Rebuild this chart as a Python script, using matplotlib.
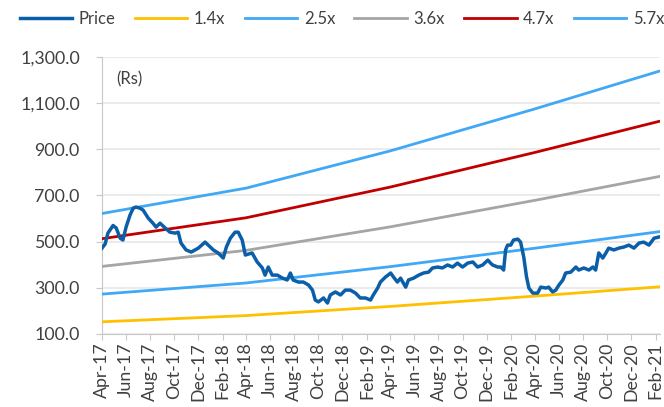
import matplotlib
matplotlib.use("Agg")
import matplotlib.pyplot as plt
import matplotlib.dates as mdates
import matplotlib.ticker as mticker
import pandas as pd
import numpy as np

plt.rcParams['font.family'] = ['Lato', 'DejaVu Sans']

# ---- data ----
start = pd.Timestamp('2017-04-01')
price_day = [0, 8, 15, 28, 36, 46, 53, 61, 71, 79, 86, 96, 104, 117, 129, 137, 147, 160, 172, 185,
             193, 200, 213, 226, 244, 261, 269, 282, 294, 307, 315, 325, 337, 345, 355, 363, 380, 393,
             406, 413, 421, 431, 444, 457, 469, 477, 484, 497, 510, 523, 533, 540, 548, 561, 571, 578,
             591, 604, 616, 629, 642, 654, 667, 680, 687, 698, 705, 718, 731, 738, 748, 756, 769, 776,
             789, 802, 814, 827, 837, 850, 862, 875, 888, 900, 913, 926, 939, 951, 964, 977, 984, 989,
             1002, 1010, 1017, 1022, 1027, 1035, 1042, 1053, 1060, 1068, 1075, 1081, 1091, 1103, 1111,
             1124, 1131, 1141, 1149, 1157, 1167, 1174, 1187, 1200, 1207, 1220, 1233, 1243, 1250, 1258,
             1268, 1276, 1283, 1296, 1309, 1322, 1334, 1347, 1360, 1372, 1385, 1398, 1410]
price = [472, 490, 537, 570, 559, 515, 507, 563, 615, 645, 650, 645, 637, 602, 580, 563, 580, 559, 541, 537,
         541, 494, 464, 455, 472, 498, 485, 464, 451, 429, 477, 515, 541, 541, 507, 442, 451, 412,
         386, 355, 390, 355, 355, 342, 334, 364, 334, 325, 325, 312, 290, 247, 239, 256, 234, 269,
         282, 269, 290, 290, 277, 256, 256, 247, 269, 299, 325, 347, 364, 347, 325, 342, 303, 334,
         342, 355, 364, 368, 386, 390, 386, 399, 390, 407, 390, 407, 412, 390, 399, 420, 407, 399,
         390, 390, 377, 464, 485, 485, 507, 511, 498, 433, 347, 299, 277, 277, 303,
         299, 303, 282, 290, 312, 334, 364, 368, 390, 377, 386, 377, 390, 377, 451,
         429, 451, 472, 464, 472, 477, 485, 472, 494, 498, 485, 515, 520]

bv_dates = ['2017-04-01', '2018-04-01', '2019-04-01', '2020-04-01', '2021-02-09']
bvps = [109.1, 128.4, 156.7, 188.6, 217.2]

band_labels = ['1.4x', '2.5x', '3.6x', '4.7x', '5.7x']
band_multiples = [1.4, 2.5, 3.6, 4.7, 5.7]
band_colors = ['#FFC000', '#41A8F5', '#A5A5A5', '#C00000', '#41A8F5']

yticks = [100, 300, 500, 700, 900, 1100, 1300]

# ---- plot ----
fig = plt.figure(figsize=(6.64, 4.07), dpi=100)
ax = fig.add_axes([0.1536, 0.1794, 0.8404, 0.6806])

pdates = start + pd.to_timedelta(price_day, unit='D')
bdates = pd.to_datetime(bv_dates)

ax.plot(pdates, price, color='#0B5EA8', lw=2.5, label='Price', zorder=5, solid_joinstyle='round')
for lab, m, c in zip(band_labels, band_multiples, band_colors):
    ax.plot(bdates, np.array(bvps) * m, color=c, lw=2.0, label=lab, zorder=3)

ax.set_ylim(100, 1300)
ax.set_yticks(yticks)
ax.yaxis.set_major_formatter(mticker.StrMethodFormatter('{x:,.1f}'))
ax.set_xlim(pd.Timestamp('2017-04-01'), pd.Timestamp('2021-02-12'))
ax.xaxis.set_major_locator(mdates.MonthLocator(bymonth=[2, 4, 6, 8, 10, 12]))
ax.xaxis.set_major_formatter(mdates.DateFormatter('%b-%y'))
plt.setp(ax.get_xticklabels(), rotation=90)

ax.grid(axis='y', color='#E8E8E8', lw=1.2)
ax.set_axisbelow(True)
for s in ['top', 'right']:
    ax.spines[s].set_visible(False)
for s in ['left', 'bottom']:
    ax.spines[s].set_color('#C8C8C8')
ax.tick_params(axis='both', colors='#C8C8C8', labelcolor='#404040', labelsize=12.8, length=4)
ax.tick_params(axis='x', pad=2)
ax.tick_params(axis='y', pad=12)

ax.text(0.025, 0.95, '(Rs)', transform=ax.transAxes, fontsize=12, color='#404040', va='top')

fig.legend(loc='upper center', bbox_to_anchor=(0.515, 1.01), ncol=6, frameon=False, fontsize=12,
           handlelength=3.15, columnspacing=1.15, handletextpad=0.4, labelcolor='#404040')

fig.savefig('out.png', dpi=100)
